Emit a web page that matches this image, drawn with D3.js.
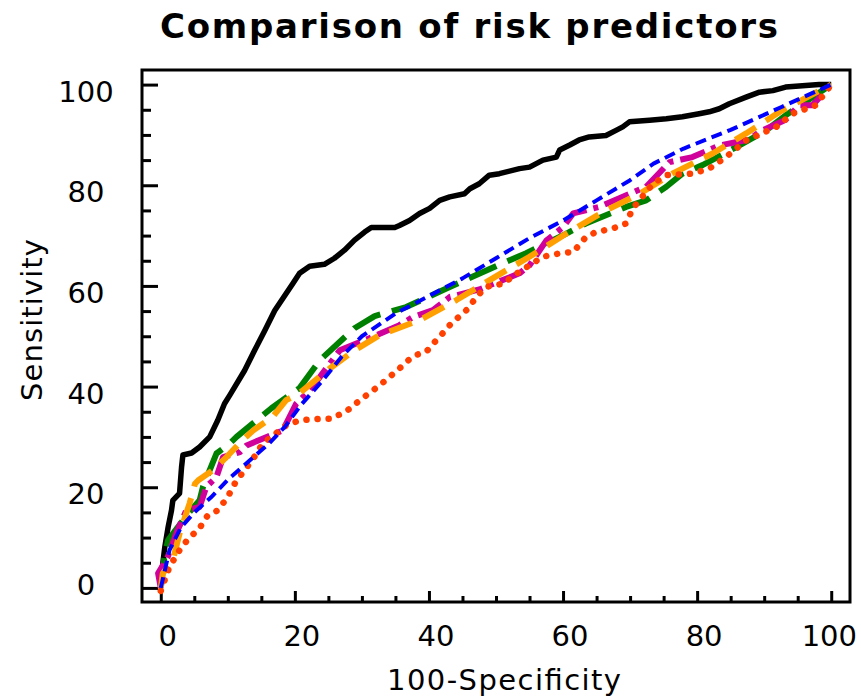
<!DOCTYPE html>
<html>
<head>
<meta charset="utf-8">
<script src="https://cdn.jsdelivr.net/npm/d3@7/dist/d3.min.js"></script>
<style>
  html, body { margin: 0; padding: 0; background: #fff; }
  svg { display: block; }
  text { font-family: "DejaVu Sans", Verdana, sans-serif; fill: #000; }
</style>
</head>
<body>
<svg id="chart" width="861" height="699"></svg>
<script>
// ---- Data ----
const chartTitle = "Comparison of risk predictors";
const xTitle = "100-Specificity";
const yTitle = "Sensitivity";
const majorTicks = [0, 20, 40, 60, 80, 100];
const minorTicks = [5, 10, 15, 25, 30, 35, 45, 50, 55, 65, 70, 75, 85, 90, 95];

const blackCurve = [[0,0],[0,1.5],[0.6,8.1],[1.1,12.1],[1.6,15.4],[1.8,17.4],[2.8,18.8],[3.1,24],[3.3,26.4],[4.6,26.8],[5.8,28],[7.3,30],[8.5,33.3],[9.5,36.6],[10.3,38.3],[12.5,43.2],[14.0,47.2],[15.5,51.1],[17.0,55.1],[18.5,58.1],[19.7,60.5],[20.7,62.5],[22.2,63.9],[24.4,64.3],[25.9,65.5],[27.4,67.1],[28.9,69.1],[30.4,70.7],[31.4,71.6],[34.9,71.6],[35.6,72.0],[37.1,73.0],[38.6,74.4],[40.1,75.4],[41.6,77.0],[43.1,77.7],[45.3,78.3],[46.1,79.3],[47.5,80.3],[49.0,82.0],[50.5,82.3],[53.5,83.3],[55.0,83.6],[56.0,84.3],[57.0,85.0],[59.0,85.6],[59.5,87.0],[61.0,88.0],[62.4,89.0],[63.9,89.6],[66.4,89.9],[67.9,90.9],[68.9,91.6],[69.9,92.6],[72.9,92.9],[75.4,93.2],[77.8,93.6],[80.3,94.2],[81.8,94.6],[83.3,95.2],[84.8,96.2],[87.3,97.5],[89.3,98.5],[91.3,98.8],[93.2,99.5],[96.2,99.8],[98.2,100],[100,100]];

const blueCurve = [[0,0],[1.3,7.5],[3,12],[5,15],[7.5,18],[10,21.5],[13,25],[16,28.5],[18.5,32],[21,36.5],[24,41],[27,46],[30,50],[35,54.5],[40,58],[45,61.5],[50,65.5],[55,69.5],[60,73],[65,77],[70,81],[73.5,84.3],[78,87.3],[85,91],[92.5,95.5],[100,100]];

const greenCurve = [[0,0],[0.6,6.8],[1.1,9.5],[3.3,13.4],[4.3,15.1],[5.8,17.4],[6.3,20.1],[7.3,23.4],[8.3,26.7],[10.3,28.7],[11.3,30],[13.3,32.2],[16.5,35.7],[20.7,39.7],[23.7,45.2],[28.9,51.6],[31.9,54],[36.6,55.8],[42.6,59.5],[45.6,61.3],[51.5,64.8],[54.5,66.5],[60.5,70.4],[63.4,72.4],[69.4,75.7],[72.4,77],[75.4,79.7],[77.8,82.3],[80.8,84],[86.3,87.9],[90.3,90.9],[93.2,93.9],[97.2,97.5],[100,100]];

const orangeCurve = [[0,0],[0.3,2.9],[1.8,5.5],[2.8,10.8],[3.3,12.8],[4.3,16.8],[5.1,20.7],[5.6,21.4],[7.8,23.4],[9.8,26],[12.3,29.5],[13.8,31.3],[16.7,34],[18.7,37.3],[20.7,38.7],[25.2,43.6],[28.9,47.2],[32.6,50.2],[38.6,53.2],[44.1,57.2],[49.5,61.5],[55,65.8],[60.5,70.4],[66.4,75],[71.4,78.3],[76.3,82.3],[82.3,86.3],[87.3,90.3],[92.7,94.9],[100,100]];

const magentaCurve = [[0,0],[-0.4,2.9],[1,6],[2.3,10.8],[3.8,15.4],[5.8,16.1],[6.8,20.1],[8.3,22],[9.3,26],[11.8,27],[12.8,28.3],[15.8,30],[18.2,31.3],[20.2,36.6],[22.2,39.2],[26.7,47.2],[31.1,49.6],[35.6,52.2],[37.6,53.8],[40.6,55.2],[43.1,57.8],[47.5,59.3],[53.5,62.5],[55,64.1],[57.5,69],[60,71.7],[61.5,74.4],[65.4,75.7],[68.4,77.4],[72.4,79.7],[75.9,84.6],[79.3,85.6],[83.3,87.9],[87.8,89.1],[89.3,90.6],[93.2,93],[95.2,95.9],[97.2,95.9],[100,100]];

const redCurve = [[0,-0.6],[1.3,4.2],[2.8,7.5],[4.3,10.1],[5.6,11.5],[7,14.4],[8.5,15.4],[10,18.1],[11.3,21.4],[12.3,23],[13.8,25.7],[15.2,28.7],[17,30.5],[18.7,32.3],[20.7,33.3],[23.7,33.6],[25.4,33.6],[26.9,34.6],[28.2,35.6],[29.7,37.3],[32.6,40.2],[35.6,43.6],[36.6,44.9],[37.9,46.2],[39.6,46.9],[40.6,48.5],[41.6,49.9],[43.3,52.5],[45.6,55.2],[47.1,57.8],[48.5,59.8],[51.3,60.5],[52.3,61.8],[57,65.8],[60,66.6],[61.5,66.7],[63.4,69.7],[64.9,70.7],[67.4,71.4],[69.4,72.4],[70.4,75.4],[73.4,80.3],[75.4,82],[79.3,82.3],[81.8,83.3],[84.3,85.6],[87.3,88.9],[91.8,91.6],[94.2,94.2],[97.7,95.9],[100,100]];

// ---- Drawing ----
const svg = d3.select("#chart");
const plot = { left: 142, right: 850, top: 70, bottom: 602 };

const x = d3.scaleLinear().domain([-2.8, 102.8]).range([plot.left, plot.right]);
const y = d3.scaleLinear().domain([-2.8, 102.9]).range([plot.bottom, plot.top]);

// Title
svg.append("text")
  .attr("x", 469).attr("y", 38)
  .attr("text-anchor", "middle")
  .attr("font-size", 34).attr("font-weight", "bold")
  .attr("textLength", 618).attr("lengthAdjust", "spacing")
  .text(chartTitle);

// Axis ticks (drawn inward)
const xAxisMajor = d3.axisBottom(x).tickValues(majorTicks).tickSize(-11).tickFormat("");
const xAxisMinor = d3.axisBottom(x).tickValues(minorTicks).tickSize(-6).tickFormat("");
const yAxisMajor = d3.axisLeft(y).tickValues(majorTicks).tickSize(-16).tickFormat("");
const yAxisMinor = d3.axisLeft(y).tickValues(minorTicks).tickSize(-9).tickFormat("");

function styleAxis(g) {
  g.select(".domain").remove();
  g.selectAll("line").attr("stroke", "#000").attr("stroke-width", 3);
}
svg.append("g").attr("transform", `translate(0,${plot.bottom})`).call(xAxisMajor).call(styleAxis);
svg.append("g").attr("transform", `translate(0,${plot.bottom})`).call(xAxisMinor).call(styleAxis);
svg.append("g").attr("transform", `translate(${plot.left},0)`).call(yAxisMajor).call(styleAxis);
svg.append("g").attr("transform", `translate(${plot.left},0)`).call(yAxisMinor).call(styleAxis);

// Tick labels
const xLabels = svg.append("g");
majorTicks.forEach(v => {
  const t = xLabels.append("text")
    .attr("font-size", 29).attr("text-anchor", "middle")
    .attr("y", 646).text(String(v));
  const w = t.node().getComputedTextLength();
  let cx = x(v) + 7;
  cx = Math.min(cx, 857 - w / 2);
  t.attr("x", cx);
});
const yLabels = svg.append("g");
majorTicks.forEach(v => {
  let by = y(v) + 17;
  by = Math.min(by, 595);
  yLabels.append("text")
    .attr("font-size", 29).attr("text-anchor", "middle")
    .attr("x", 86).attr("y", by).text(String(v));
});

// Axis titles
svg.append("text")
  .attr("x", 504).attr("y", 690)
  .attr("text-anchor", "middle").attr("font-size", 29)
  .attr("textLength", 234).attr("lengthAdjust", "spacing")
  .text(xTitle);
svg.append("text")
  .attr("transform", "translate(42,320) rotate(-90)")
  .attr("text-anchor", "middle").attr("font-size", 29)
  .attr("textLength", 162).attr("lengthAdjust", "spacing")
  .text(yTitle);

// Curves
const line = d3.line().x(d => x(d[0])).y(d => y(d[1]));
const curves = [
  { data: blackCurve,   color: "#000000", width: 5.5, dash: null,         cap: "butt" },
  { data: greenCurve,   color: "#008000", width: 6,   dash: "30 12",      cap: "butt" },
  { data: magentaCurve, color: "#d0009a", width: 6,   dash: "26 7 5 7",   cap: "butt" },
  { data: orangeCurve,  color: "#ffa000", width: 6,   dash: "24 12",      cap: "butt" },
  { data: redCurve,     color: "#ff4000", width: 6.5, dash: "0.1 11",     cap: "round" },
  { data: blueCurve,    color: "#0000ff", width: 4,   dash: "11 6",       cap: "butt" }
];
const gCurves = svg.append("g");
curves.forEach(c => {
  gCurves.append("path")
    .datum(c.data)
    .attr("d", line)
    .attr("fill", "none")
    .attr("stroke", c.color)
    .attr("stroke-width", c.width)
    .attr("stroke-linejoin", "round")
    .attr("stroke-linecap", c.cap)
    .attr("stroke-dasharray", c.dash);
});

// Frame
svg.append("rect")
  .attr("x", plot.left).attr("y", plot.top)
  .attr("width", plot.right - plot.left).attr("height", plot.bottom - plot.top)
  .attr("fill", "none").attr("stroke", "#000").attr("stroke-width", 3);
</script>
</body>
</html>
